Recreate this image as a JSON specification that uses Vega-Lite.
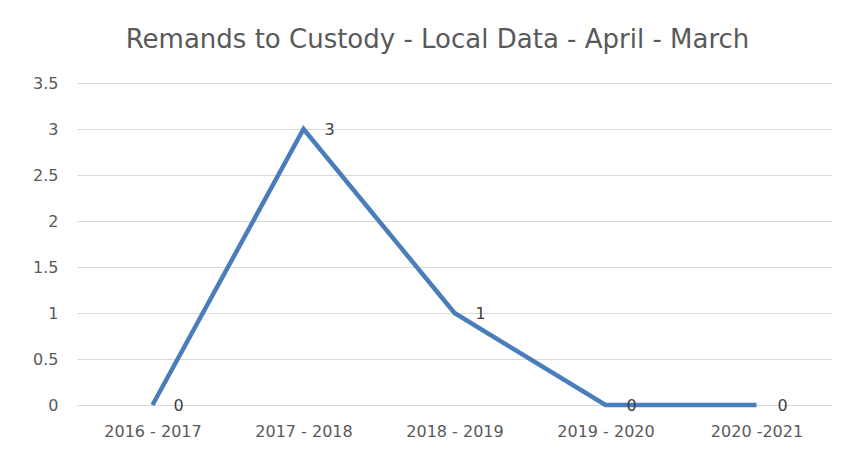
{
  "$schema": "https://vega.github.io/schema/vega-lite/v6.json",
  "width": 755,
  "height": 322,
  "autosize": {"type": "none"},
  "padding": {"left": 77, "top": 83, "right": 13, "bottom": 44},
  "background": "white",
  "title": {
    "text": "Remands to Custody - Local Data - April - March",
    "font": "DejaVu Sans",
    "fontSize": 26,
    "fontWeight": "normal",
    "color": "#595959",
    "anchor": "middle",
    "dx": -17,
    "offset": 22
  },
  "config": {"view": {"stroke": null}},
  "data": {
    "values": [
      {"year": "2016 - 2017", "value": 0},
      {"year": "2017 - 2018", "value": 3},
      {"year": "2018 - 2019", "value": 1},
      {"year": "2019 - 2020", "value": 0},
      {"year": "2020 -2021", "value": 0}
    ]
  },
  "encoding": {
    "x": {
      "field": "year",
      "type": "ordinal",
      "sort": null,
      "scale": {"type": "point", "padding": 0.5},
      "axis": {
        "title": null,
        "labelAngle": 0,
        "ticks": false,
        "domain": false,
        "grid": false,
        "labelPadding": 18,
        "labelFont": "DejaVu Sans",
        "labelFontSize": 16,
        "labelColor": "#595959"
      }
    },
    "y": {
      "field": "value",
      "type": "quantitative",
      "scale": {"domain": [0, 3.5], "nice": false},
      "axis": {
        "title": null,
        "values": [0, 0.5, 1, 1.5, 2, 2.5, 3, 3.5],
        "format": ".1~f",
        "ticks": false,
        "domain": false,
        "grid": true,
        "gridColor": "#d9d9d9",
        "gridWidth": 1.2,
        "labelPadding": 19,
        "labelFont": "DejaVu Sans",
        "labelFontSize": 16,
        "labelColor": "#595959"
      }
    }
  },
  "layer": [
    {
      "mark": {"type": "line", "color": "#4A7EBB", "strokeWidth": 4.5, "strokeJoin": "miter"}
    },
    {
      "mark": {"type": "text", "dx": 26, "dy": 1, "align": "center", "baseline": "middle", "font": "DejaVu Sans", "fontSize": 16, "color": "#404040"},
      "encoding": {"text": {"field": "value", "type": "quantitative"}}
    }
  ]
}
